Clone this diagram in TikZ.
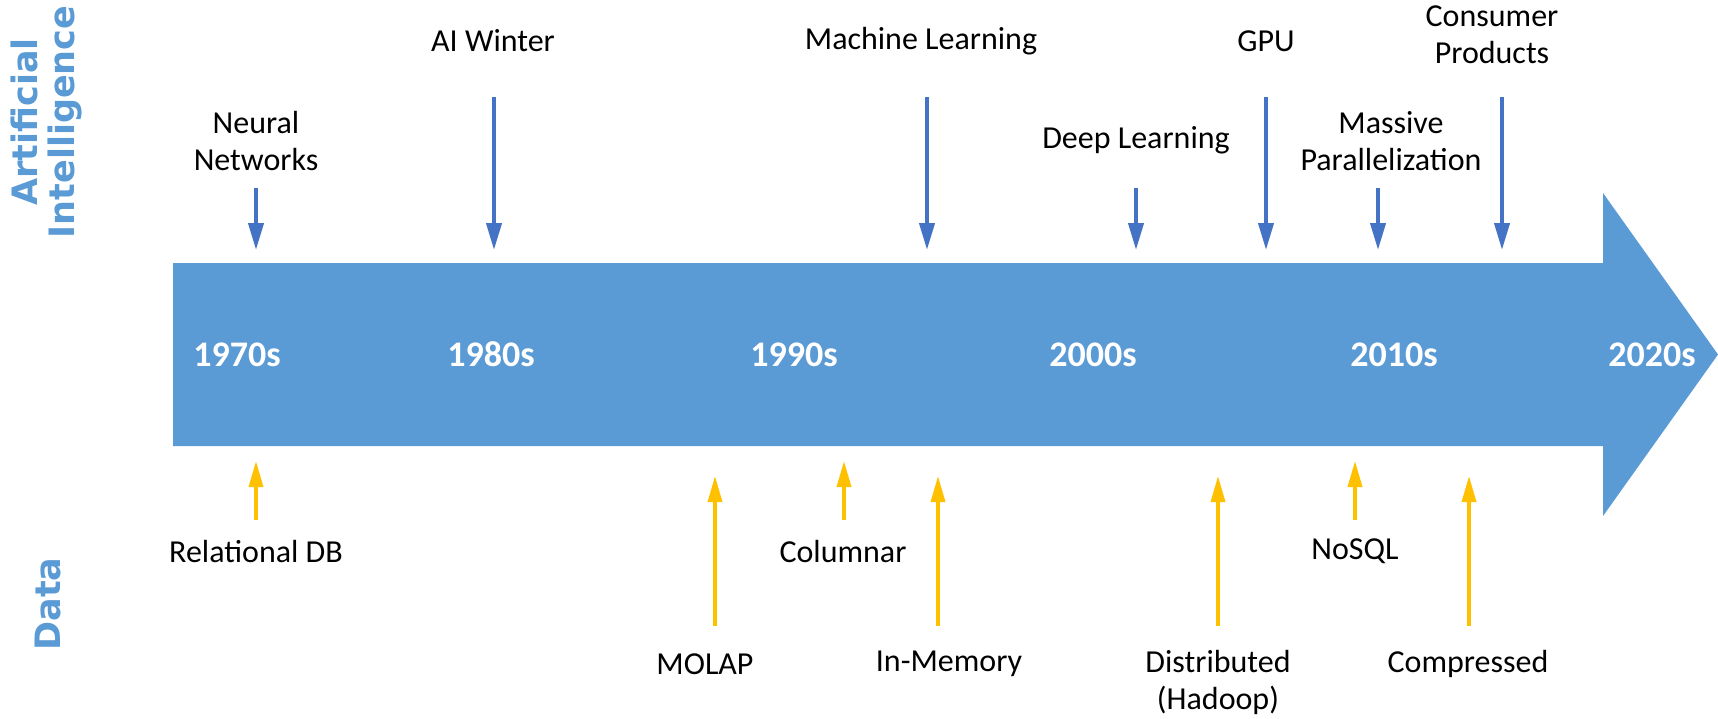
\documentclass[tikz,border=0pt]{standalone}
\usepackage{fontspec}
\setmainfont{Carlito}
\newfontfamily\sidefont{DejaVu Sans}
\usetikzlibrary{arrows.meta, positioning}
\definecolor{timeline}{RGB}{91, 155, 213}
\definecolor{aiblue}{RGB}{68, 114, 196}
\definecolor{datagold}{RGB}{255, 192, 0}

\begin{document}
\begin{tikzpicture}[
    x=1pt, y=1pt,
    event/.style={font=\fontsize{32}{37}\selectfont, align=center, inner sep=0pt},
    decade/.style={font=\fontsize{36}{40}\selectfont\bfseries, text=white, inner sep=0pt},
    side/.style={font=\sidefont\fontsize{35}{37}\selectfont\bfseries, text=timeline, rotate=90, align=center, inner sep=0pt},
    aiarrow/.style={-{Triangle[length=27pt, width=15pt]}, line width=4pt, draw=aiblue},
    dataarrow/.style={-{Triangle[length=26pt, width=14pt]}, line width=3.5pt, draw=datagold}
]
\useasboundingbox (0,0) rectangle (1718,-718);

% Timeline bar
\fill[timeline] (173,-263) -- (1603,-263) -- (1603,-193) -- (1718,-354.5)
    -- (1603,-516) -- (1603,-446) -- (173,-446) -- cycle;

% Decades
\node[decade] (d1970) at (237,-354.5) {1970s};
\node[decade] (d1980) at (491,-354.5) {1980s};
\node[decade] (d1990) at (794,-354.5) {1990s};
\node[decade] (d2000) at (1093,-354.5) {2000s};
\node[decade] (d2010) at (1394,-354.5) {2010s};
\node[decade] (d2020) at (1652,-354.5) {2020s};

% Side titles
\node[side] (ai) at (46,-122) {Artificial\\Intelligence};
\node[side] (data) at (48,-604) {Data};

% AI events
\node[event] (neural) at (256,-141) {Neural\\Networks};
\node[event] (winter) at (493,-41) {AI Winter};
\node[event] (ml) at (921,-41) {Machine Learning};
\node[event] (deep) at (1136,-140) {Deep Learning};
\node[event] (gpu) at (1266,-41) {GPU};
\node[event] (para) at (1391,-141) {Massive\\Parallelization};
\node[event] (consumer) at (1492,-35) {Consumer\\Products};

\coordinate (neural top) at (256,-188);
\coordinate (neural tip) at (256,-250);
\coordinate (winter top) at (494,-97);
\coordinate (winter tip) at (494,-250);
\coordinate (ml top) at (927,-97);
\coordinate (ml tip) at (927,-250);
\coordinate (deep top) at (1136,-188);
\coordinate (deep tip) at (1136,-250);
\coordinate (gpu top) at (1266,-97);
\coordinate (gpu tip) at (1266,-250);
\coordinate (para top) at (1378,-188);
\coordinate (para tip) at (1378,-250);
\coordinate (consumer top) at (1502,-97);
\coordinate (consumer tip) at (1502,-250);

% Data events
\node[event] (rdb) at (256,-551) {Relational DB};
\node[event] (col) at (843,-551) {Columnar};
\node[event] (nosql) at (1355,-551) {NoSQL};
\node[event] (molap) at (705,-664) {MOLAP};
\node[event] (inmem) at (949,-664) {In-Memory};
\node[event] (dist) at (1218,-682) {Distributed\\(Hadoop)};
\node[event] (compr) at (1468,-664) {Compressed};

\coordinate (rdb foot) at (256,-520);
\coordinate (rdb tip) at (256,-461);
\coordinate (col foot) at (844,-520);
\coordinate (col tip) at (844,-461);
\coordinate (nosql foot) at (1355,-520);
\coordinate (nosql tip) at (1355,-461);
\coordinate (molap foot) at (715,-626);
\coordinate (molap tip) at (715,-476);
\coordinate (inmem foot) at (938,-626);
\coordinate (inmem tip) at (938,-476);
\coordinate (dist foot) at (1218,-626);
\coordinate (dist tip) at (1218,-476);
\coordinate (compr foot) at (1469,-626);
\coordinate (compr tip) at (1469,-476);

% Arrows
\draw[aiarrow] (neural top) -- (neural tip);
\draw[aiarrow] (winter top) -- (winter tip);
\draw[aiarrow] (ml top) -- (ml tip);
\draw[aiarrow] (deep top) -- (deep tip);
\draw[aiarrow] (gpu top) -- (gpu tip);
\draw[aiarrow] (para top) -- (para tip);
\draw[aiarrow] (consumer top) -- (consumer tip);
\draw[dataarrow] (rdb foot) -- (rdb tip);
\draw[dataarrow] (col foot) -- (col tip);
\draw[dataarrow] (nosql foot) -- (nosql tip);
\draw[dataarrow] (molap foot) -- (molap tip);
\draw[dataarrow] (inmem foot) -- (inmem tip);
\draw[dataarrow] (dist foot) -- (dist tip);
\draw[dataarrow] (compr foot) -- (compr tip);

\end{tikzpicture}
\end{document}
